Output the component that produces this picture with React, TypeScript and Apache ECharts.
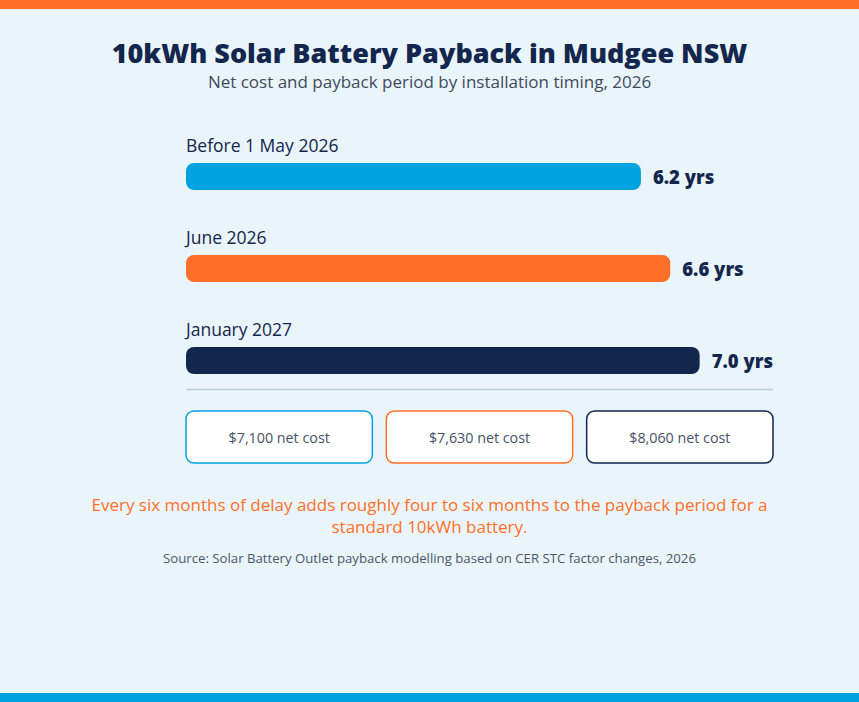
import React, { useEffect, useRef } from "react";
import * as echarts from "echarts";

const categories = ["Before 1 May 2026", "June 2026", "January 2027"];
const paybackYears = [6.2, 6.6, 7.0];
const netCosts = [7100, 7630, 8060];
const barColors = ["#00A3E0", "#FF6F28", "#13264D"];

const FONT = "'Open Sans', 'Noto Sans', sans-serif";
const NAVY = "#13264D";
const ORANGE = "#FF6F28";
const W = 859;
const H = 702;

export default function App() {
  const ref = useRef<HTMLDivElement>(null);

  useEffect(() => {
    if (!ref.current) return;
    const chart = echarts.init(ref.current, undefined, { renderer: "svg" });

    const gridLeft = 186;
    const gridRight = 773;
    const boxGap = 14;
    const boxW = (gridRight - gridLeft - 2 * boxGap) / 3;

    const costBoxes = netCosts.map((c, i) => ({
      type: "group",
      x: gridLeft + i * (boxW + boxGap),
      y: 411,
      children: [
        {
          type: "rect",
          shape: { x: 0, y: 0, width: boxW, height: 52, r: 8 },
          style: { fill: "#FFFFFF", stroke: barColors[i], lineWidth: 1.5 },
        },
        {
          type: "text",
          x: boxW / 2,
          y: 26,
          style: {
            text: "$" + c.toLocaleString("en-US") + " net cost",
            fill: "#475366",
            font: `400 14.3px ${FONT}`,
            align: "center",
            verticalAlign: "middle",
          },
        },
      ],
    }));

    chart.setOption({
      animation: false,
      backgroundColor: "#EAF5FB",
      title: {
        text: "10kWh Solar Battery Payback in Mudgee NSW",
        subtext: "Net cost and payback period by installation timing, 2026",
        left: "center",
        top: 34,
        itemGap: 7,
        textStyle: { color: NAVY, fontFamily: FONT, fontWeight: 800, fontSize: 27 },
        subtextStyle: { color: "#3D4A5E", fontFamily: FONT, fontSize: 17 },
      },
      grid: { left: gridLeft, width: gridRight - gridLeft, top: 130.5, height: 276 },
      xAxis: {
        type: "value",
        min: 0,
        max: 8,
        show: false,
      },
      yAxis: {
        type: "category",
        data: categories,
        inverse: true,
        axisLine: { show: false },
        axisTick: { show: false },
        splitLine: { show: false },
        axisLabel: {
          inside: true,
          align: "left",
          verticalAlign: "bottom",
          margin: 0,
          padding: [0, 0, 23, 0],
          color: NAVY,
          fontFamily: FONT,
          fontSize: 17.5,
        },
      },
      series: [
        {
          type: "bar",
          barWidth: 27,
          data: paybackYears.map((v, i) => ({
            value: v,
            itemStyle: { color: barColors[i], borderRadius: 8 },
          })),
          label: {
            show: true,
            position: "right",
            distance: 12,
            formatter: (p: any) => Number(p.value).toFixed(1) + " yrs",
            color: NAVY,
            fontFamily: FONT,
            fontWeight: 800,
            fontSize: 18.5,
          },
        },
      ],
      graphic: [
        { type: "rect", shape: { x: 0, y: 0, width: W, height: 9 }, style: { fill: ORANGE } },
        { type: "rect", shape: { x: 0, y: 693, width: W, height: 9 }, style: { fill: "#00A3E0" } },
        {
          type: "line",
          shape: { x1: gridLeft, y1: 389.5, x2: gridRight, y2: 389.5 },
          style: { stroke: "#B9CCDC", lineWidth: 1.5 },
        },
        ...costBoxes,
        {
          type: "text",
          x: W / 2,
          y: 515,
          style: {
            text:
              "Every six months of delay adds roughly four to six months to the payback period for a\nstandard 10kWh battery.",
            fill: ORANGE,
            font: `500 17px ${FONT}`,
            lineHeight: 22,
            align: "center",
            verticalAlign: "middle",
          },
        },
        {
          type: "text",
          x: W / 2,
          y: 558,
          style: {
            text: "Source: Solar Battery Outlet payback modelling based on CER STC factor changes, 2026",
            fill: "#4A5568",
            font: `400 13.2px ${FONT}`,
            align: "center",
            verticalAlign: "middle",
          },
        },
      ],
    });

    return () => chart.dispose();
  }, []);

  return (
    <div
      ref={ref}
      style={{ position: "fixed", left: 0, top: 0, width: W, height: H }}
    />
  );
}
